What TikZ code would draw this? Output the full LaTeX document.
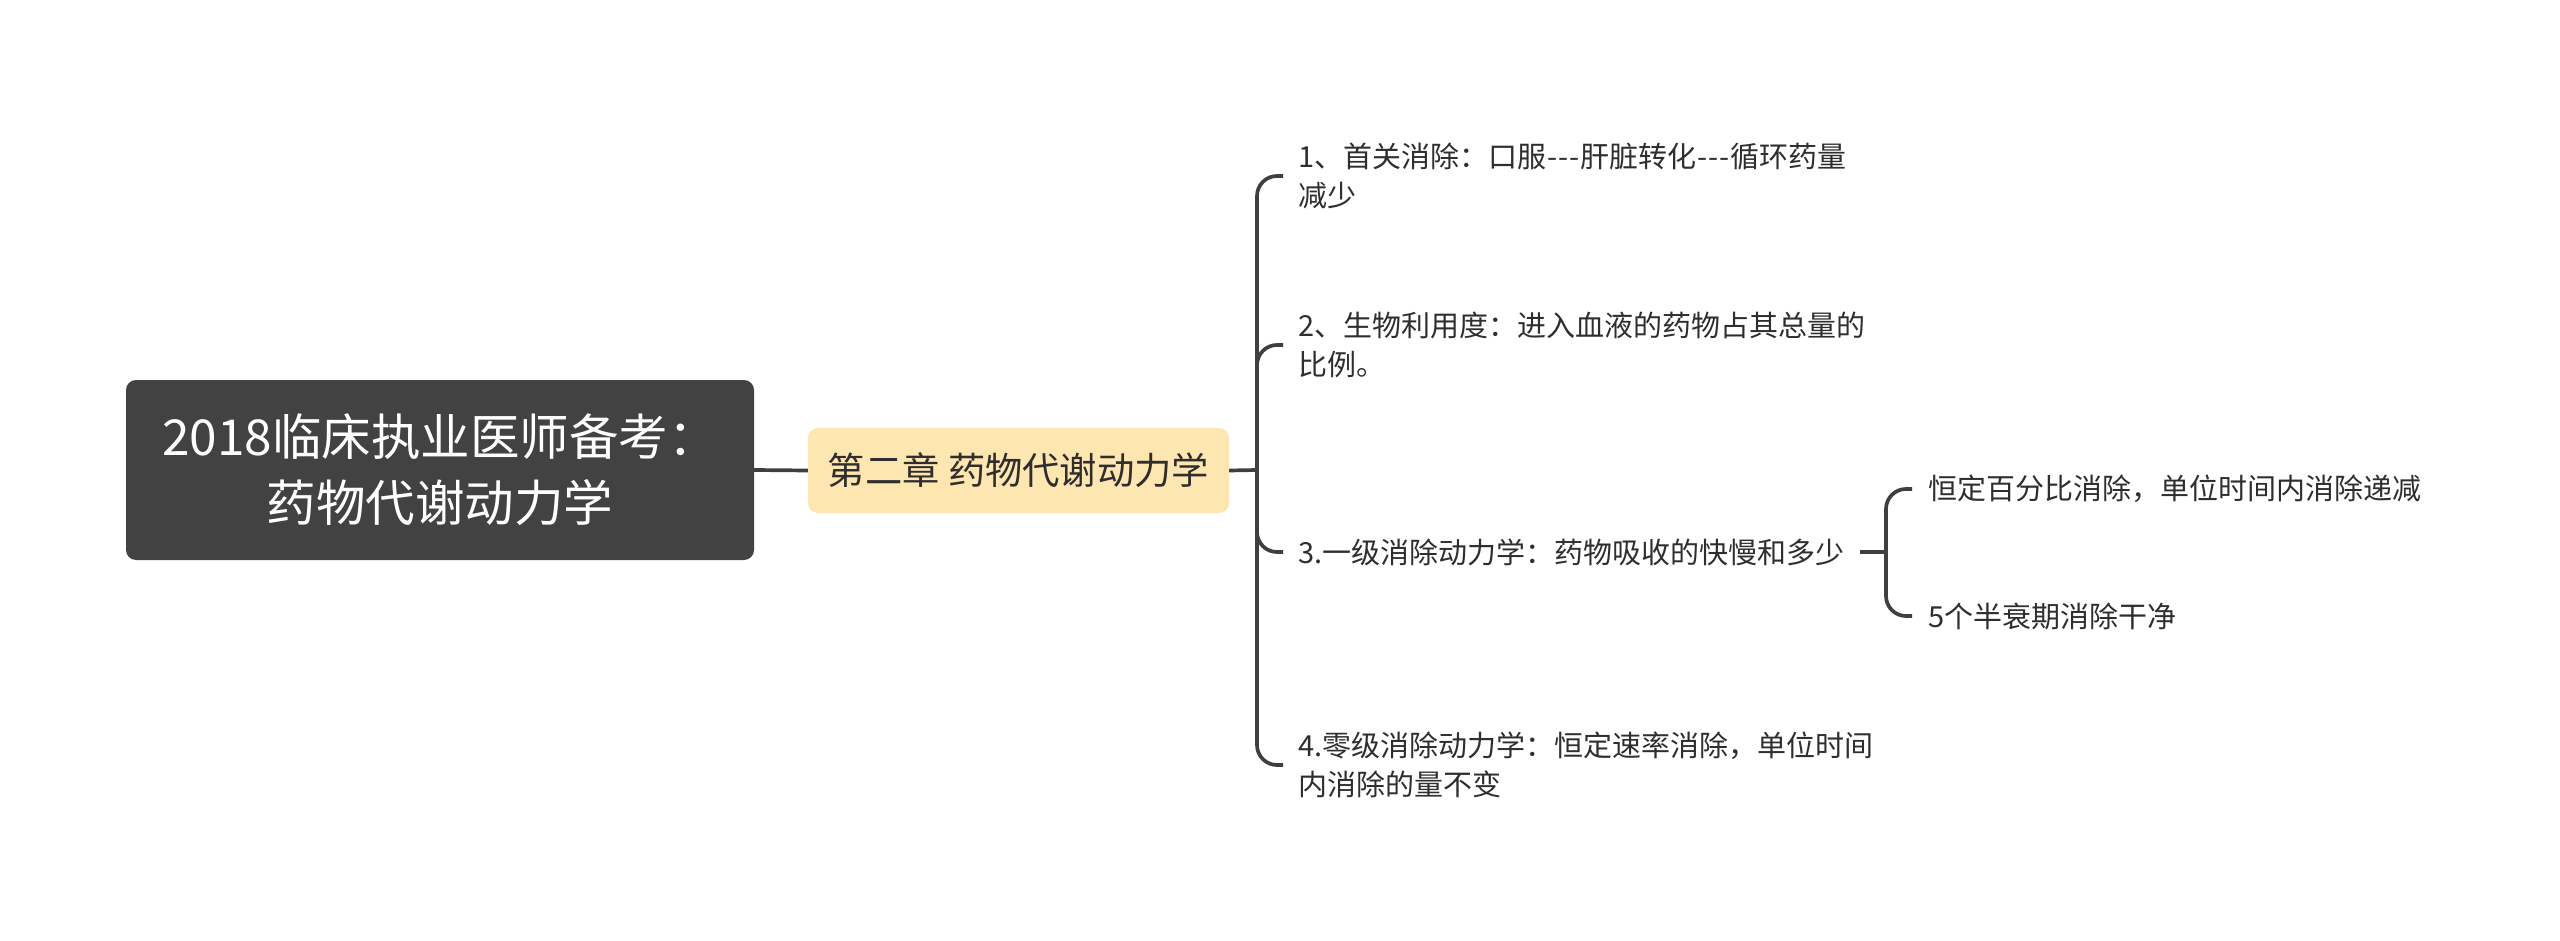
\documentclass[tikz,border=0pt]{standalone}
\usepackage{fontspec}
\newfontfamily\cjk{Noto Sans CJK SC}
\definecolor{rootfill}{HTML}{424242}
\definecolor{mainfill}{HTML}{FEE6B1}
\definecolor{linec}{HTML}{3F3F3F}
\definecolor{txt}{HTML}{2E2E2E}
\begin{document}
\begin{tikzpicture}[x=1pt,y=-1pt,
  rootbox/.style={fill=rootfill, rounded corners=10pt, text=white, font=\cjk\fontsize{49.5}{66}\selectfont, align=center, minimum width=628pt, minimum height=180pt, inner sep=0pt},
  mainbox/.style={fill=mainfill, rounded corners=10pt, text=txt, font=\cjk\fontsize{37.3}{44}\selectfont, minimum width=421pt, minimum height=85pt, inner sep=0pt},
  leaf/.style={anchor=west, inner xsep=15pt, inner ysep=0pt, align=left, text=txt, font=\cjk\fontsize{29}{38.5}\selectfont},
  conn/.style={draw=linec, line width=3.7pt, rounded corners=20pt}]
\useasboundingbox (0,0) rectangle (2560,941);
\node[rootbox] (root) at (440,470) {2018临床执业医师备考：\\药物代谢动力学};
\node[mainbox] (main) at (1018.5,470.5) {第二章 药物代谢动力学};
\coordinate (t1) at (1257,470);
\node[leaf] (l1) at (1283,176) {1、首关消除：口服\kern1pt-\kern1pt-\kern1pt-\kern1pt肝脏转化\kern1pt-\kern1pt-\kern1pt-\kern1pt循环药量\\减少};
\node[leaf] (l2) at (1283,345) {2、生物利用度：进入血液的药物占其总量的\\比例。};
\node[leaf] (l3) at (1283,552) {3.一级消除动力学：药物吸收的快慢和多少};
\node[leaf] (l4) at (1283,765) {4.零级消除动力学：恒定速率消除，单位时间\\内消除的量不变};
\coordinate (t2) at (1886,552);
\node[leaf, inner xsep=16pt] (s1) at (1912,489) {恒定百分比消除，单位时间内消除递减};
\node[leaf, inner xsep=16pt] (s2) at (1912,616) {5个半衰期消除干净};
\draw[conn] (root.east) -- (main.west);
\draw[conn] (main.east) -- (t1);
\foreach \n in {l1,l2,l3,l4} \draw[conn] (t1) |- (\n.west);
\draw[conn] (l3.east) -- (t2);
\foreach \n in {s1,s2} \draw[conn] (t2) |- (\n.west);
\end{tikzpicture}
\end{document}
